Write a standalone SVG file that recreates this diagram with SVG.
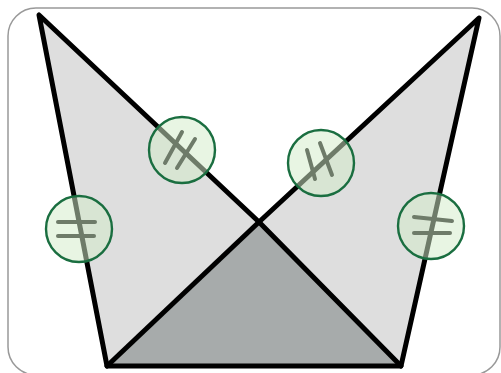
<svg xmlns="http://www.w3.org/2000/svg" width="501" height="373" viewBox="0 0 501 373">
<style>
.edge{stroke:#000;stroke-width:5;stroke-linejoin:round;stroke-linecap:round;fill:none}
.tick{stroke:#000;stroke-width:4;stroke-linecap:round}
.mark{fill:#d2ecca;fill-opacity:0.52;stroke:#1a6e40;stroke-width:2.4}
</style>
<rect x="8" y="8" width="492" height="367" rx="28" fill="#fff" stroke="#999" stroke-width="1.5"/>
<g id="left-triangle"><polygon points="39,15 107,366 259,222" fill="#dedede"/></g>
<g id="right-triangle"><polygon points="479,18 401,366 259,222" fill="#dedede"/></g>
<g id="bottom-triangle"><polygon points="107,366 401,366 259,222" fill="#a7abab"/></g>
<g id="connectors">
<polyline class="edge" points="259,222 39,15 107,366 401,366 479,18 259,222"/>
<line class="edge" x1="107" y1="366" x2="259" y2="222"/>
<line class="edge" x1="259" y1="222" x2="401" y2="366"/>
<line class="tick" x1="58" y1="222" x2="95" y2="222"/>
<line class="tick" x1="58" y1="236" x2="94" y2="236"/>
<line class="tick" x1="165" y1="163" x2="182" y2="132"/>
<line class="tick" x1="177" y1="168" x2="195" y2="139"/>
<line class="tick" x1="307" y1="150" x2="315" y2="179"/>
<line class="tick" x1="320" y1="143" x2="332" y2="175"/>
<line class="tick" x1="414" y1="217" x2="452" y2="221"/>
<line class="tick" x1="414" y1="233" x2="450" y2="233"/>
</g>
<g id="mark-1"><circle class="mark" cx="79" cy="229" r="33"/></g>
<g id="mark-2"><circle class="mark" cx="182" cy="150" r="33"/></g>
<g id="mark-3"><circle class="mark" cx="321" cy="163" r="33"/></g>
<g id="mark-4"><circle class="mark" cx="431" cy="226" r="33"/></g>
</svg>
